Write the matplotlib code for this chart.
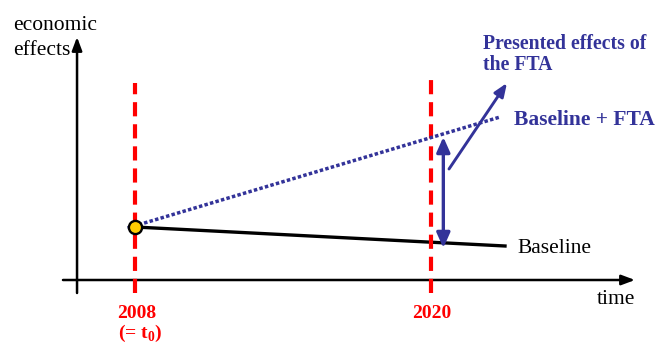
import numpy as np
import matplotlib.pyplot as plt

plt.rcParams['font.family'] = ['Liberation Serif', 'DejaVu Serif']
plt.rcParams['mathtext.fontset'] = 'custom'
plt.rcParams['mathtext.rm'] = 'Liberation Serif'
plt.rcParams['mathtext.bf'] = 'Liberation Serif:bold'

# schematic values: x in years, y in arbitrary "economic effects" units
mark_years = [2008, 2020]
mark_labels = ['2008', '2020']
mark_tops = [19.7, 20.3]

baseline_years = [2008, 2023]
baseline_vals = [5.3, 3.4]

fta_years = [2007.7, 2022.8]
fta_vals = [5.2, 16.3]

gap_year = 2020.5
gap_vals = [3.2, 14.3]          # baseline / baseline+FTA at the comparison point

pointer_tail = (2020.73, 11.1)
pointer_tip = (2023.08, 19.7)

x_axis = (2005.08, 2028.27)
y_axis_year = 2005.65
y_axis = (-1.3, 24.3)

blue = '#333399'
red = '#ff0000'

fig = plt.figure(figsize=(6.59, 3.44), dpi=100)
ax = fig.add_axes([0, 0, 1, 1])
ax.set_xlim(2002.527, 2029.243)
ax.set_ylim(-6.4, 28.0)
ax.axis('off')

# axes with arrow heads
ax.annotate('', xy=(x_axis[1], 0), xytext=(x_axis[0], 0),
            arrowprops=dict(arrowstyle='-|>,head_length=0.8,head_width=0.3',
                            mutation_scale=10, lw=1.8, color='black',
                            shrinkA=0, shrinkB=0))
ax.annotate('', xy=(y_axis_year, y_axis[1]), xytext=(y_axis_year, y_axis[0]),
            arrowprops=dict(arrowstyle='-|>,head_length=0.8,head_width=0.3',
                            mutation_scale=10, lw=1.8, color='black',
                            shrinkA=0, shrinkB=0))

# baseline
ax.plot(baseline_years, baseline_vals, color='black', lw=2.4, zorder=2)

# vertical year markers
for yr, top in zip(mark_years, mark_tops):
    ax.plot([yr, yr], [-1.3, top], color=red, lw=3.0,
            linestyle=(0, (3.4, 1.9)), zorder=3)

# baseline + FTA
ax.plot(fta_years, fta_vals, color=blue, lw=2.5,
        linestyle=(0, (1, 0.65)), dash_capstyle='butt', zorder=4)

# start point
ax.plot(baseline_years[0], baseline_vals[0], 'o', ms=9.5, mfc='#ffcc00',
        mec='black', mew=1.7, zorder=6)

# difference between the two paths
ax.annotate('', xy=(gap_year, gap_vals[1]), xytext=(gap_year, gap_vals[0]),
            arrowprops=dict(arrowstyle='<|-|>,head_length=0.9,head_width=0.4',
                            mutation_scale=10, lw=2.4, color=blue,
                            shrinkA=0, shrinkB=0), zorder=5)
ax.annotate('', xy=pointer_tip, xytext=pointer_tail,
            arrowprops=dict(arrowstyle='-|>,head_length=0.8,head_width=0.32',
                            mutation_scale=10, lw=2.1, color=blue,
                            shrinkA=0, shrinkB=0), zorder=5)

# labels
ax.text(2003.05, 25.0, 'economic', fontsize=15.5, ha='left', va='baseline')
ax.text(2003.05, 22.5, 'effects', fontsize=15.5, ha='left', va='baseline')
ax.text(2028.27, -2.4, 'time', fontsize=15.5, ha='right', va='baseline')
ax.text(2023.49, 2.7, 'Baseline', fontsize=15.5, ha='left', va='baseline')
ax.text(2023.36, 15.5, 'Baseline + FTA', fontsize=15.5, fontweight='bold',
        color=blue, ha='left', va='baseline')
ax.text(2022.11, 23.1, 'Presented effects of', fontsize=14.2,
        fontweight='bold', color=blue, ha='left', va='baseline')
ax.text(2022.11, 21.0, 'the FTA', fontsize=14.2,
        fontweight='bold', color=blue, ha='left', va='baseline')

for yr, lab in zip(mark_years, mark_labels):
    ax.text(yr + 0.05, -3.8, lab, fontsize=14, fontweight='bold', color=red,
            ha='center', va='baseline')
ax.text(2008.2, -5.8, r'(= t$_\mathbf{0}$)', fontsize=14, fontweight='bold',
        color=red, ha='center', va='baseline')

fig.savefig('out.png', dpi=100)
